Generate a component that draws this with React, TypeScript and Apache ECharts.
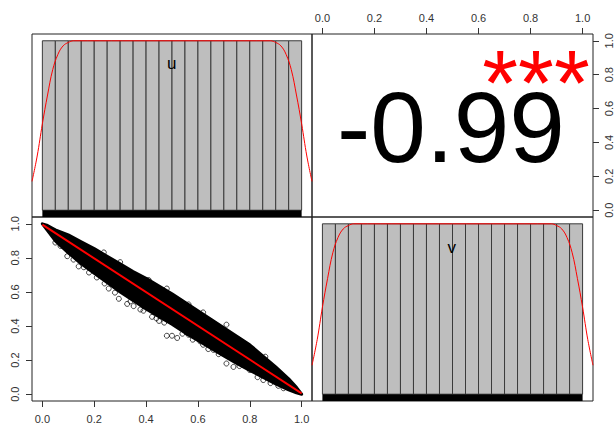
import { useEffect, useRef } from "react";
import * as echarts from "echarts";

// Shared axis scale for every panel (R pads the [0, 1] range by 4%).
const AXIS_MIN = -0.04;
const AXIS_MAX = 1.04;
const TICKS = [0, 0.2, 0.4, 0.6, 0.8, 1.0];

const VAR_NAMES = ["u", "v"];
const CORR_LABEL = "-0.99";
const SIGNIF_LABEL = "***";

// Histogram bins (density scale).
const BIN_EDGES = [
  0, 0.05, 0.1, 0.15, 0.2, 0.25, 0.3, 0.35, 0.4, 0.45, 0.5,
  0.55, 0.6, 0.65, 0.7, 0.75, 0.8, 0.85, 0.9, 0.95, 1.0,
];
const U_DENSITY = [
  1.0, 1.0, 1.0, 1.0, 1.0, 1.0, 1.0, 1.0, 1.0, 1.0,
  1.0, 1.0, 1.0, 1.0, 1.0, 1.0, 1.0, 1.0, 1.0, 1.0,
];
const V_DENSITY = [
  1.0, 1.0, 1.0, 1.0, 1.0, 1.0, 1.0, 1.0, 1.0, 1.0,
  1.0, 1.0, 1.0, 1.0, 1.0, 1.0, 1.0, 1.0, 1.0, 1.0,
];

// Kernel density curves.
const U_KDE: [number, number][] = [
  [-0.04, 0.17], [-0.02, 0.32], [0.0, 0.51], [0.02, 0.68], [0.04, 0.83],
  [0.06, 0.92], [0.08, 0.97], [0.1, 0.99], [0.12, 1.0], [0.5, 1.0],
  [0.88, 1.0], [0.9, 0.99], [0.92, 0.97], [0.94, 0.92], [0.96, 0.83],
  [0.98, 0.68], [1.0, 0.51], [1.02, 0.32], [1.04, 0.17],
];
const V_KDE: [number, number][] = [
  [-0.04, 0.17], [-0.02, 0.32], [0.0, 0.51], [0.02, 0.68], [0.04, 0.83],
  [0.06, 0.92], [0.08, 0.97], [0.1, 0.99], [0.12, 1.0], [0.5, 1.0],
  [0.88, 1.0], [0.9, 0.99], [0.92, 0.97], [0.94, 0.92], [0.96, 0.83],
  [0.98, 0.68], [1.0, 0.51], [1.02, 0.32], [1.04, 0.17],
];

// Rug extent along each variable.
const RUG_RANGE = [0, 1];

// Dense core of the u/v point cloud: upper and lower edges.
const BAND_X = [
  0, 0.02, 0.05, 0.1, 0.15, 0.2, 0.25, 0.3, 0.35, 0.4, 0.45, 0.5,
  0.55, 0.6, 0.65, 0.7, 0.75, 0.8, 0.85, 0.9, 0.95, 0.98, 1.0,
];
const BAND_UPPER = [
  1.0, 0.99, 0.965, 0.935, 0.895, 0.855, 0.81, 0.765, 0.72, 0.68, 0.635, 0.59,
  0.54, 0.49, 0.44, 0.39, 0.34, 0.29, 0.225, 0.16, 0.09, 0.04, 0.0,
];
const BAND_LOWER = [
  1.0, 0.96, 0.9, 0.83, 0.765, 0.71, 0.655, 0.6, 0.55, 0.5, 0.455, 0.41,
  0.36, 0.315, 0.27, 0.225, 0.18, 0.14, 0.1, 0.06, 0.025, 0.008, 0.0,
];

// Stray points around the core.
const OUTLIERS: [number, number][] = [
  [0.07, 0.87], [0.096, 0.81], [0.18, 0.714], [0.21, 0.685], [0.256, 0.62],
  [0.28, 0.596], [0.295, 0.56], [0.327, 0.53], [0.352, 0.517], [0.378, 0.497],
  [0.423, 0.454], [0.48, 0.343], [0.5, 0.343], [0.52, 0.33], [0.564, 0.349],
  [0.609, 0.31], [0.66, 0.26], [0.71, 0.18], [0.737, 0.16], [0.8, 0.142],
  [0.852, 0.083], [0.91, 0.049], [0.41, 0.67], [0.237, 0.832], [0.564, 0.527],
  [0.71, 0.408], [0.782, 0.28], [0.14, 0.75], [0.45, 0.43], [0.62, 0.29],
  [0.12, 0.79], [0.16, 0.745], [0.24, 0.65], [0.34, 0.545], [0.39, 0.49],
  [0.44, 0.445], [0.47, 0.42], [0.54, 0.355], [0.58, 0.32], [0.64, 0.265],
  [0.68, 0.235], [0.76, 0.165], [0.83, 0.1], [0.88, 0.065], [0.3, 0.775],
  [0.48, 0.62], [0.62, 0.48], [0.86, 0.22], [0.05, 0.89], [0.93, 0.035],
];

// Smoother through the cloud.
const FIT_LINE: [number, number][] = [[0, 0.995], [1, 0.005]];

const FONT = "Liberation Sans, Arial, sans-serif";

function axis(kind: "x" | "y", gridIndex: number, show: boolean, position?: string, margin = 12) {
  return {
    type: "value",
    gridIndex,
    min: AXIS_MIN,
    max: AXIS_MAX,
    show,
    position,
    splitLine: { show: false },
    axisLine: { show: false, onZero: false },
    axisTick: {
      show: true,
      length: 6,
      customValues: TICKS,
      lineStyle: { color: "#333", width: 1 },
    },
    axisLabel: {
      customValues: TICKS,
      formatter: (v: number) => v.toFixed(1),
      fontSize: 11,
      fontFamily: FONT,
      color: "#333",
      margin,
      rotate: kind === "y" ? 90 : 0,
    },
  };
}

function histogramSeries(idx: number, density: number[]) {
  const data = density.map((d, i) => [BIN_EDGES[i], BIN_EDGES[i + 1], d]);
  return {
    type: "custom",
    xAxisIndex: idx,
    yAxisIndex: idx,
    data,
    encode: { x: [0, 1], y: 2 },
    renderItem: (_p: any, api: any) => {
      const a = api.coord([api.value(0), 0]);
      const b = api.coord([api.value(1), api.value(2)]);
      return {
        type: "rect",
        shape: { x: a[0], y: b[1], width: b[0] - a[0], height: a[1] - b[1] },
        style: { fill: "#bebebe", stroke: "#3a3a3a", lineWidth: 1 },
      };
    },
  };
}

function rugSeries(idx: number) {
  return {
    type: "custom",
    xAxisIndex: idx,
    yAxisIndex: idx,
    data: [[RUG_RANGE[0], RUG_RANGE[1]]],
    encode: { x: [0, 1] },
    renderItem: (_p: any, api: any) => {
      const a = api.coord([api.value(0), AXIS_MIN]);
      const b = api.coord([api.value(1), 0]);
      return {
        type: "rect",
        shape: { x: a[0], y: b[1], width: b[0] - a[0], height: a[1] - b[1] },
        style: { fill: "#000" },
      };
    },
  };
}

function kdeSeries(idx: number, pts: [number, number][]) {
  return {
    type: "line",
    xAxisIndex: idx,
    yAxisIndex: idx,
    data: pts,
    smooth: 0.4,
    showSymbol: false,
    z: 5,
    lineStyle: { color: "#ff0000", width: 1 },
  };
}

function label(text: string, x: number, y: number, fontSize: number, fill: string) {
  return {
    type: "text",
    x,
    y,
    z: 100,
    style: {
      text,
      fontSize,
      fontFamily: FONT,
      fill,
      align: "center",
      verticalAlign: "middle",
      textAlign: "center",
      textVerticalAlign: "middle",
    },
  };
}

export default function App() {
  const ref = useRef<HTMLDivElement>(null);

  useEffect(() => {
    if (!ref.current) return;
    const chart = echarts.init(ref.current, undefined, { renderer: "svg" });
    const border = { show: true, borderColor: "#222", borderWidth: 1, backgroundColor: "transparent" };

    chart.setOption({
      animation: false,
      backgroundColor: "#fff",
      grid: [
        { left: 32, top: 34, width: 280, height: 183, ...border },
        { left: 312, top: 34, width: 281, height: 183, ...border },
        { left: 32, top: 217, width: 280, height: 184, ...border },
        { left: 312, top: 217, width: 281, height: 184, ...border },
      ],
      xAxis: [
        axis("x", 0, false),
        axis("x", 1, true, "top", 11),
        axis("x", 2, true, "bottom", 12),
        axis("x", 3, false),
      ],
      yAxis: [
        axis("y", 0, false),
        axis("y", 1, true, "right", 10),
        axis("y", 2, true, "left", 12),
        axis("y", 3, false),
      ],
      series: [
        histogramSeries(0, U_DENSITY),
        rugSeries(0),
        kdeSeries(0, U_KDE),
        histogramSeries(3, V_DENSITY),
        rugSeries(3),
        kdeSeries(3, V_KDE),
        // empty series keeps the correlation panel's axes alive
        {
          type: "scatter",
          xAxisIndex: 1,
          yAxisIndex: 1,
          data: [],
        },
        {
          type: "custom",
          xAxisIndex: 2,
          yAxisIndex: 2,
          data: [[0.5, 0.5]],
          encode: { x: 0, y: 1 },
          renderItem: (_p: any, api: any) => {
            const pts: number[][] = [];
            for (let i = 0; i < BAND_X.length; i++) pts.push(api.coord([BAND_X[i], BAND_UPPER[i]]));
            for (let i = BAND_X.length - 1; i >= 0; i--) pts.push(api.coord([BAND_X[i], BAND_LOWER[i]]));
            return {
              type: "polygon",
              shape: { points: pts },
              style: { fill: "#000", stroke: "#000", lineWidth: 3, lineJoin: "round" },
            };
          },
        },
        {
          type: "scatter",
          xAxisIndex: 2,
          yAxisIndex: 2,
          data: OUTLIERS,
          symbol: "circle",
          symbolSize: 5,
          itemStyle: { color: "rgba(0,0,0,0)", borderColor: "#000", borderWidth: 0.9 },
        },
        {
          type: "line",
          xAxisIndex: 2,
          yAxisIndex: 2,
          data: FIT_LINE,
          showSymbol: false,
          z: 5,
          lineStyle: { color: "#ff0000", width: 2 },
        },
      ],
      graphic: [
        label(CORR_LABEL, 451, 127, 100, "#000"),
        label(SIGNIF_LABEL, 536, 83, 92, "#ff0000"),
        label(VAR_NAMES[0], 171.7, 63, 17, "#000"),
        label(VAR_NAMES[1], 451.7, 247, 17, "#000"),
      ],
    });

    return () => chart.dispose();
  }, []);

  return (
    <div
      ref={ref}
      style={{ position: "fixed", left: 0, top: 0, width: 614, height: 427, background: "#fff" }}
    />
  );
}
